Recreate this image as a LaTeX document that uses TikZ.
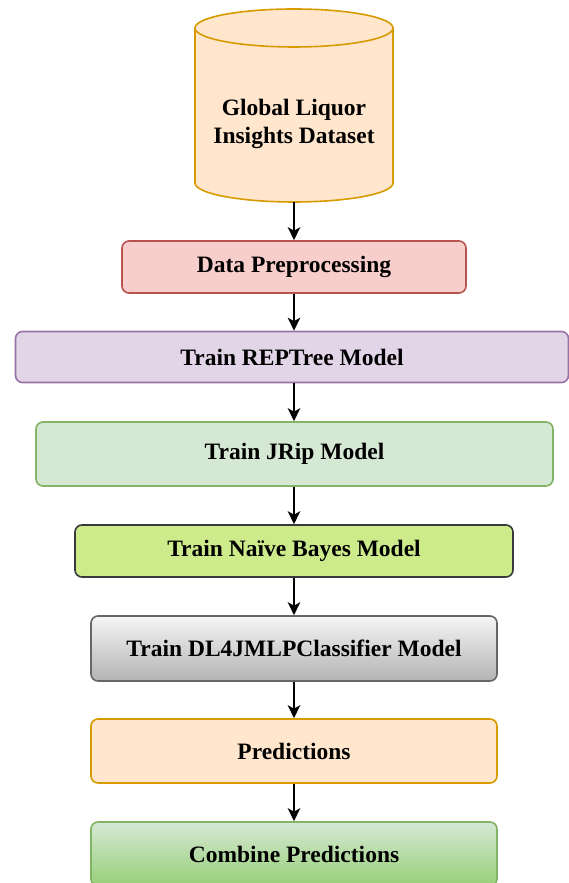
\documentclass[tikz,border=0pt]{standalone}
\usepackage{fontspec}
\setmainfont{Liberation Serif}
\usetikzlibrary{arrows.meta}
\definecolor{orFill}{HTML}{FFE6CC}
\definecolor{orLine}{HTML}{D79B00}
\definecolor{rdFill}{HTML}{F8CECC}
\definecolor{rdLine}{HTML}{B85450}
\definecolor{puFill}{HTML}{E1D5E7}
\definecolor{puLine}{HTML}{9673A6}
\definecolor{gnFill}{HTML}{D5E8D4}
\definecolor{gnLine}{HTML}{82B366}
\definecolor{gnDark}{HTML}{97D077}
\definecolor{lmFill}{HTML}{CDEB8B}
\definecolor{lmLine}{HTML}{36393D}
\definecolor{gyTop}{HTML}{F5F5F5}
\definecolor{gyBot}{HTML}{B3B3B3}
\definecolor{gyLine}{HTML}{666666}
\tikzset{
  x=1pt, y=1pt,
  txt/.style={font=\fontsize{23.5}{28}\selectfont\bfseries, text=black, align=center},
  stepbox/.style={txt, rounded corners=7pt, line width=1.6pt, inner sep=0pt},
  arr/.style={line width=1.7pt, -{Stealth[length=13pt,width=12.5pt,inset=3.5pt]}}
}
\begin{document}
\begin{tikzpicture}
\useasboundingbox (0,0) rectangle (569,883);
\clip (0,0) rectangle (569,883);
% cylinder
\draw[fill=orFill, draw=orLine, line width=1.6pt]
  (195,855) -- (195,700) arc[start angle=180, end angle=360, x radius=99, y radius=19]
  -- (393,855) arc[start angle=0, end angle=180, x radius=99, y radius=19] -- cycle;
\draw[draw=orLine, line width=1.6pt] (195,855) arc[start angle=180, end angle=360, x radius=99, y radius=19];
\node[txt] (db) at (294,759) {Global Liquor\\Insights Dataset};
\coordinate (dbbot) at (294,681);

\node[stepbox, draw=rdLine, fill=rdFill, minimum width=344pt, minimum height=52pt] (prep) at (294,616) {Data Preprocessing};
\node[stepbox, draw=puLine, fill=puFill, minimum width=553pt, minimum height=51pt] (rep) at (292,526) {Train REPTree Model};
\node[stepbox, draw=gnLine, fill=gnFill, minimum width=517pt, minimum height=64pt] (jrip) at (294.5,429) {Train JRip Model};
\node[stepbox, draw=lmLine, fill=lmFill, minimum width=438pt, minimum height=52pt] (nb) at (294,332) {Train Naïve Bayes Model};
\node[stepbox, draw=gyLine, top color=gyTop, bottom color=gyBot, minimum width=406pt, minimum height=65pt] (dl) at (294,234.5) {Train DL4JMLPClassifier Model};
\node[stepbox, draw=orLine, fill=orFill, minimum width=406pt, minimum height=64pt] (pred) at (294,132) {Predictions};
\node[stepbox, draw=gnLine, top color=gnFill, bottom color=gnDark, minimum width=406pt, minimum height=64pt] (comb) at (294,29) {Combine Predictions};

\draw[arr] (dbbot) -- (prep.north);
\draw[arr] (prep.south) -- (prep.south |- rep.north);
\draw[arr] (prep.south |- rep.south) -- (prep.south |- jrip.north);
\draw[arr] (prep.south |- jrip.south) -- (prep.south |- nb.north);
\draw[arr] (nb.south) -- (dl.north);
\draw[arr] (dl.south) -- (pred.north);
\draw[arr] (pred.south) -- (comb.north);
\end{tikzpicture}
\end{document}
